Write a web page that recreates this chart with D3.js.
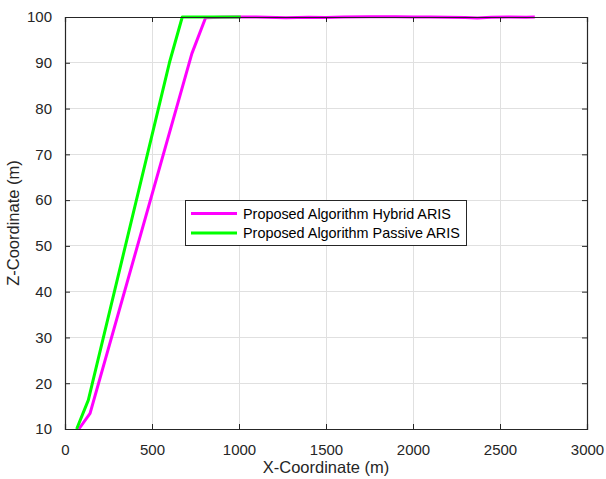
<!DOCTYPE html>
<html><head><meta charset="utf-8">
<script src="https://cdn.jsdelivr.net/npm/d3@7"></script>
<style>body{margin:0;background:#fff}svg{display:block}text{font-family:"Liberation Sans",Arial,Helvetica,sans-serif}</style>
</head><body>
<script>
const xTicks = [0, 500, 1000, 1500, 2000, 2500, 3000];
const yTicks = [10, 20, 30, 40, 50, 60, 70, 80, 90, 100];
const seriesNames = ["Proposed Algorithm Hybrid ARIS", "Proposed Algorithm Passive ARIS"];
const seriesColors = ["#ff00ff", "#00ff00"];
const hybridX = [80, 144, 729, 808, 900, 1000, 1100, 1270, 1400, 1500, 1600, 1750, 1900, 2000, 2100, 2200, 2300, 2370, 2450, 2550, 2650, 2700];
const hybridZ = [10, 13.4, 92, 99.85, 99.95, 100, 99.98, 99.85, 99.97, 99.88, 100.02, 100.05, 100.03, 99.98, 100.02, 99.95, 99.9, 99.8, 99.95, 99.98, 99.95, 100];
const passiveX = [67, 134, 600, 674, 800, 1010];
const passiveZ = [10, 16.3, 90, 100, 100, 100];

const W = 606, H = 479;
const m = {l: 65, t: 17, r: 587, b: 429};
const svg = d3.select("body").append("svg").attr("width", W).attr("height", H);
const x = d3.scaleLinear().domain([0, 3000]).range([m.l, m.r]);
const y = d3.scaleLinear().domain([10, 100]).range([m.b, m.t]);
const axisCol = "#262626";

// grid
svg.append("g").selectAll("line").data(xTicks.slice(1, -1)).join("line")
  .attr("x1", d => x(d)).attr("x2", d => x(d)).attr("y1", m.t).attr("y2", m.b)
  .attr("stroke", "#e0e0e0").attr("stroke-width", 1).attr("shape-rendering", "crispEdges");
svg.append("g").selectAll("line").data(yTicks.slice(1, -1)).join("line")
  .attr("y1", d => y(d)).attr("y2", d => y(d)).attr("x1", m.l).attr("x2", m.r)
  .attr("stroke", "#e0e0e0").attr("stroke-width", 1).attr("shape-rendering", "crispEdges");

// lines
const line = d3.line().x(d => x(d[0])).y(d => y(d[1]));
const data = [hybridX.map((v, i) => [v, hybridZ[i]]), passiveX.map((v, i) => [v, passiveZ[i]])];
data.forEach((d, i) => {
  svg.append("path").datum(d).attr("d", line).attr("fill", "none")
    .attr("stroke", seriesColors[i]).attr("stroke-width", 3).attr("stroke-linejoin", "round");
});

// axes with inward ticks
const tl = 5;
const gx = svg.append("g").attr("transform", `translate(0,${m.b})`)
  .call(d3.axisBottom(x).tickValues(xTicks).tickSize(-tl).tickPadding(10 + tl).tickFormat(d3.format("d")));
const gy = svg.append("g").attr("transform", `translate(${m.l},0)`)
  .call(d3.axisLeft(y).tickValues(yTicks).tickSize(-tl).tickPadding(8 + tl).tickFormat(d3.format("d")));
const gxt = svg.append("g").attr("transform", `translate(0,${m.t})`)
  .call(d3.axisTop(x).tickValues(xTicks).tickSize(-tl).tickFormat(""));
const gyr = svg.append("g").attr("transform", `translate(${m.r},0)`)
  .call(d3.axisRight(y).tickValues(yTicks).tickSize(-tl).tickFormat(""));
[gx, gy, gxt, gyr].forEach(g => {
  g.select(".domain").attr("stroke", axisCol).attr("stroke-width", 1.2);
  g.selectAll(".tick line").attr("stroke", axisCol);
  g.selectAll(".tick text").attr("fill", axisCol).style("font-size", "15px")
    .style("font-family", '"Liberation Sans",Arial,Helvetica,sans-serif');
});

// axis titles
svg.append("text").attr("x", (m.l + m.r) / 2).attr("y", 473).attr("text-anchor", "middle")
  .attr("fill", axisCol).style("font-size", "16.5px").text("X-Coordinate (m)");
svg.append("text").attr("transform", `translate(19,${(m.t + m.b) / 2}) rotate(-90)`).attr("text-anchor", "middle")
  .attr("fill", axisCol).style("font-size", "16.5px").text("Z-Coordinate (m)");

// legend
const lg = svg.append("g");
lg.append("rect").attr("x", 185.5).attr("y", 200.5).attr("width", 281).attr("height", 45)
  .attr("fill", "#fff").attr("stroke", axisCol).attr("stroke-width", 1);
seriesNames.forEach((n, i) => {
  const yy = 213.5 + i * 19.5;
  lg.append("line").attr("x1", 191).attr("x2", 237).attr("y1", yy).attr("y2", yy)
    .attr("stroke", seriesColors[i]).attr("stroke-width", 3);
  lg.append("text").attr("x", 243).attr("y", yy + 5).attr("fill", "#000")
    .style("font-size", "14.4px").text(n);
});
</script>
</body></html>
